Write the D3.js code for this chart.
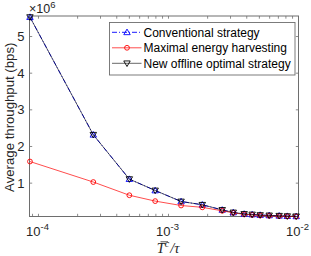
<!DOCTYPE html>
<html><head><meta charset="utf-8">
<script src="https://cdn.jsdelivr.net/npm/d3@7"></script>
<style>body{margin:0;background:#fff}svg{display:block;font-family:"Liberation Sans",Arial,sans-serif}</style>
</head><body><svg id="c" width="311" height="256"></svg>
<script>
const xValues = [8.6e-5, 2.64e-4, 5.0e-4, 7.9e-4, 1.25e-3, 1.82e-3, 2.59e-3, 3.15e-3, 3.82e-3, 4.4e-3, 5.07e-3, 5.95e-3, 7.1e-3, 8.2e-3, 9.6e-3];
const conventional = [5.53e6, 2.32e6, 1.11e6, 0.80e6, 0.50e6, 0.41e6, 0.27e6, 0.20e6, 0.16e6, 0.145e6, 0.13e6, 0.12e6, 0.11e6, 0.10e6, 0.095e6];
const maxHarvest = [1.59e6, 1.03e6, 0.67e6, 0.51e6, 0.39e6, 0.34e6, 0.245e6, 0.19e6, 0.15e6, 0.135e6, 0.12e6, 0.11e6, 0.10e6, 0.095e6, 0.09e6];
const newOptimal = [5.53e6, 2.32e6, 1.11e6, 0.80e6, 0.50e6, 0.41e6, 0.27e6, 0.20e6, 0.16e6, 0.145e6, 0.13e6, 0.12e6, 0.11e6, 0.10e6, 0.095e6];
const yTicks = [1e6, 2e6, 3e6, 4e6, 5e6];
const yTickLabels = ["1", "2", "3", "4", "5"];
const xMajor = [1e-4, 1e-3, 1e-2];
const xMajorExp = ["-4", "-3", "-2"];
const seriesNames = ["Conventional strategy", "Maximal energy harvesting", "New offline optimal strategy"];

const L = 29.5, R = 298.5, T = 16, B = 216.5;
const svg = d3.select("#c");
const x = d3.scaleLog().domain([8.53e-5, 1e-2]).range([L, R]);
const y = d3.scaleLinear().domain([0.09e6, 5.56e6]).range([B, T]);
const axisCol = "#6e6e6e";
const tl = 2.7;

const minor = [];
for (let e = -5; e <= -3; e++) for (let m = 2; m <= 9; m++) { const v = m * Math.pow(10, e); if (v >= 8.53e-5 && v <= 1e-2) minor.push(v); }
const g = svg.append("g");
[...minor, ...xMajor].forEach(v => {
  g.append("line").attr("x1", x(v)).attr("x2", x(v)).attr("y1", B).attr("y2", B - tl).attr("stroke", axisCol).attr("stroke-width", 0.8);
  g.append("line").attr("x1", x(v)).attr("x2", x(v)).attr("y1", T).attr("y2", T + tl).attr("stroke", axisCol).attr("stroke-width", 0.8);
});
yTicks.forEach(v => {
  g.append("line").attr("x1", L).attr("x2", L + tl).attr("y1", y(v)).attr("y2", y(v)).attr("stroke", axisCol).attr("stroke-width", 0.8);
  g.append("line").attr("x1", R).attr("x2", R - tl).attr("y1", y(v)).attr("y2", y(v)).attr("stroke", axisCol).attr("stroke-width", 0.8);
});
g.append("rect").attr("x", L).attr("y", T).attr("width", R - L).attr("height", B - T).attr("fill", "none").attr("stroke", axisCol).attr("stroke-width", 1);

yTicks.forEach((v, i) => {
  svg.append("text").attr("x", L - 5).attr("y", y(v) + 4.5).attr("text-anchor", "end").attr("font-size", 13).attr("fill", "#262626").text(yTickLabels[i]);
});
xMajor.forEach((v, i) => {
  const t = svg.append("text").attr("x", x(v) - 1).attr("y", 236).attr("text-anchor", "middle").attr("font-size", 13).attr("fill", "#262626");
  t.append("tspan").text("10");
  t.append("tspan").attr("dy", -6).attr("font-size", 9.5).text(xMajorExp[i]);
});
const ex = svg.append("text").attr("x", L - 0.5).attr("y", 13).attr("font-size", 12.5).attr("fill", "#262626");
ex.append("tspan").text("×10");
ex.append("tspan").attr("dy", -5).attr("font-size", 9.5).text("6");

svg.append("text").attr("transform", `translate(13.5,${(T + B) / 2 + 1}) rotate(-90)`).attr("text-anchor", "middle").attr("font-size", 13.2).attr("fill", "#262626").text("Average throughput (bps)");

const xl = svg.append("text").attr("x", 168).attr("y", 253).attr("text-anchor", "middle").attr("font-family", "'Liberation Serif','DejaVu Serif',serif").attr("font-style", "italic").attr("font-size", 14.5).attr("fill", "#262626");
const tsT = xl.append("tspan").text("T");
xl.append("tspan").attr("dy", -6).attr("font-size", 10).text("c");
xl.append("tspan").attr("dy", 6).attr("dx", 1).text("/τ");
svg.append("line").attr("x1", 160.5).attr("x2", 168).attr("y1", 241.8).attr("y2", 241.8).attr("stroke", "#262626").attr("stroke-width", 0.8);

const data = xValues.map((xv, i) => ({ x: xv, c: conventional[i], m: maxHarvest[i], n: newOptimal[i] }));
const line = key => d3.line().x(d => x(d.x)).y(d => y(d[key]));

const triUp = d3.symbol().type(d3.symbolTriangle).size(18);
function markers(key, kind, color) {
  const mg = svg.append("g");
  data.forEach(d => {
    const cx = x(d.x), cy = y(d[key]);
    if (kind === "circle") mg.append("circle").attr("cx", cx).attr("cy", cy).attr("r", 2.4).attr("fill", "none").attr("stroke", color).attr("stroke-width", 0.9);
    else mg.append("path").attr("d", triUp()).attr("transform", `translate(${cx},${cy + (kind === "up" ? 0.5 : -0.5)}) rotate(${kind === "up" ? 0 : 180})`).attr("fill", "none").attr("stroke", color).attr("stroke-width", 0.9);
  });
}
svg.append("path").datum(data).attr("d", line("c")).attr("fill", "none").attr("stroke", "#0000ff").attr("stroke-width", 0.9).attr("stroke-dasharray", "5,2,1,2");
markers("c", "up", "#0000ff");
svg.append("path").datum(data).attr("d", line("m")).attr("fill", "none").attr("stroke", "#ff0000").attr("stroke-width", 0.7);
markers("m", "circle", "#ff0000");
svg.append("path").datum(data).attr("d", line("n")).attr("fill", "none").attr("stroke", "#000").attr("stroke-width", 0.6);
markers("n", "down", "#000");

const lg = svg.append("g");
lg.append("rect").attr("x", 109.5).attr("y", 22.5).attr("width", 185.5).attr("height", 52.5).attr("fill", "#fff").attr("stroke", axisCol).attr("stroke-width", 0.9);
const rowsY = [32.3, 47.8, 63.3];
const styles = [
  { c: "#0000ff", dash: "5,2,1,2", w: 0.9, k: "up" },
  { c: "#ff0000", dash: null, w: 0.7, k: "circle" },
  { c: "#000", dash: null, w: 0.6, k: "down" }
];
rowsY.forEach((ry, i) => {
  const s = styles[i];
  const ln = lg.append("line").attr("x1", 112).attr("x2", 141.5).attr("y1", ry).attr("y2", ry).attr("stroke", s.c).attr("stroke-width", s.w);
  if (s.dash) ln.attr("stroke-dasharray", s.dash);
  if (s.k === "circle") lg.append("circle").attr("cx", 127).attr("cy", ry).attr("r", 2.4).attr("fill", "none").attr("stroke", s.c).attr("stroke-width", 0.9);
  else lg.append("path").attr("d", triUp()).attr("transform", `translate(127,${ry + (s.k === "up" ? 0.5 : -0.5)}) rotate(${s.k === "up" ? 0 : 180})`).attr("fill", "none").attr("stroke", s.c).attr("stroke-width", 0.9);
  lg.append("text").attr("x", 143.5).attr("y", ry + 4.2).attr("font-size", 12).attr("fill", "#000").text(seriesNames[i]);
});
</script></body></html>
